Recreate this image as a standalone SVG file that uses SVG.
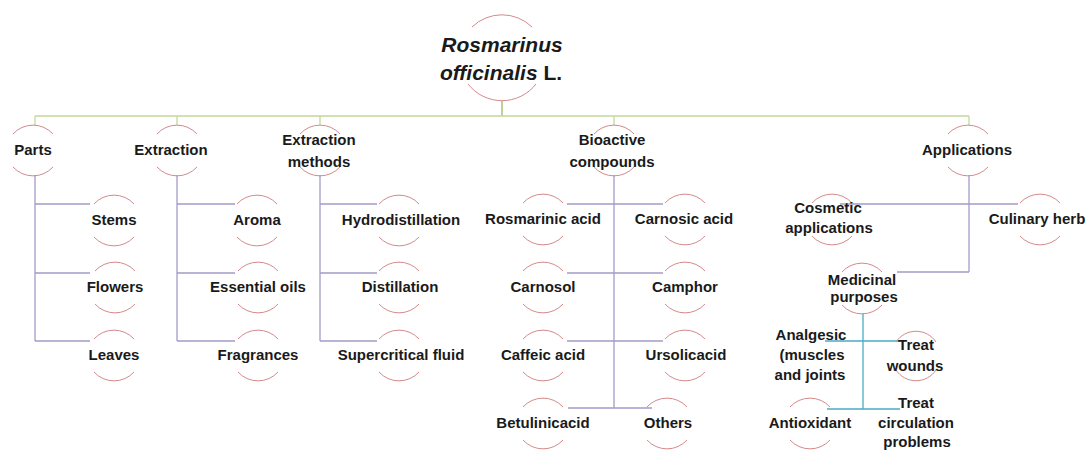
<svg xmlns="http://www.w3.org/2000/svg" xmlns:xlink="http://www.w3.org/1999/xlink" width="1091" height="450" viewBox="0 0 1091 450">
<style>
text{font-family:"Liberation Sans",Arial,sans-serif;font-weight:bold;font-size:15px;fill:#1a1a1a;text-anchor:middle}
.t{font-size:21px;font-style:italic}
.arc{fill:none;stroke:#d48a8a;stroke-width:1}
.g{stroke:#c4d79b;stroke-width:1.3;fill:none}
.gs{stroke:#9bbb59;stroke-width:1.3;fill:none}
.p{stroke:#a29cc9;stroke-width:1.3;fill:none}
.c{stroke:#4bacc6;stroke-width:1.3;fill:none}
</style>
<defs>
<path id="arcs" class="arc" d="M-20 -21 A27 27 0 0 1 20 -21 M-20 12 A27 27 0 0 0 20 12"/>
</defs>
<rect width="1091" height="450" fill="#fff"/>
<g id="connectors">
<path class="gs" d="M502 101 V116"/>
<path class="g" d="M35 116 H969 M35 116 V125 M177 116 V125 M320 116 V125 M614 116 V125 M969 116 V125"/>
<path class="p" d="M35 175 V341 M35 204 H90 M35 273 H90 M35 341 H90"/>
<path class="p" d="M177 175 V341 M177 204 H235 M177 273 H235 M177 341 H235"/>
<path class="p" d="M320 175 V341 M320 204 H377 M320 273 H377 M320 341 H377"/>
<path class="p" d="M614 175 V408 M567 204 H663 M567 273 H663 M567 341 H663 M568 408 H652"/>
<path class="p" d="M969 175 V272 M840 204 H1018 M897 272 H969"/>
<path class="c" d="M863 313 V409 M825 341 H900 M827 409 H900"/>
</g>
<g id="root">
<path class="arc" d="M472 27 A43 43 0 0 1 532 27 M468 84 A43 43 0 0 0 536 84"/>
<text class="t" x="502" y="52">Rosmarinus</text>
<text class="t" x="501" y="80">officinalis<tspan font-style="normal"> L.</tspan></text>
</g>
<g id="parts"><use xlink:href="#arcs" x="33" y="155"/><text x="33" y="155">Parts</text></g>
<g id="extraction"><use xlink:href="#arcs" x="177" y="155"/><text x="171" y="155">Extraction</text></g>
<g id="methods"><use xlink:href="#arcs" x="320" y="155"/><text x="319" y="145">Extraction</text><text x="319" y="167">methods</text></g>
<g id="bioactive"><use xlink:href="#arcs" x="614" y="155"/><text x="612" y="145">Bioactive</text><text x="612" y="167">compounds</text></g>
<g id="applications"><use xlink:href="#arcs" x="968" y="155"/><text x="967" y="155">Applications</text></g>

<g id="stems"><use xlink:href="#arcs" x="114" y="225"/><text x="114" y="225">Stems</text></g>
<g id="flowers"><use xlink:href="#arcs" x="115" y="292"/><text x="115" y="292">Flowers</text></g>
<g id="leaves"><use xlink:href="#arcs" x="114" y="360"/><text x="114" y="360">Leaves</text></g>

<g id="aroma"><use xlink:href="#arcs" x="257" y="225"/><text x="257" y="225">Aroma</text></g>
<g id="oils"><use xlink:href="#arcs" x="258" y="292"/><text x="258" y="292">Essential oils</text></g>
<g id="fragrances"><use xlink:href="#arcs" x="258" y="360"/><text x="258" y="360">Fragrances</text></g>

<g id="hydro"><use xlink:href="#arcs" x="399" y="225"/><text x="401" y="225">Hydrodistillation</text></g>
<g id="distillation"><use xlink:href="#arcs" x="399" y="292"/><text x="400" y="292">Distillation</text></g>
<g id="supercritical"><use xlink:href="#arcs" x="399" y="360"/><text x="401" y="360">Supercritical fluid</text></g>

<g id="rosmarinic"><use xlink:href="#arcs" x="543" y="224"/><text x="543" y="224">Rosmarinic acid</text></g>
<g id="carnosic"><use xlink:href="#arcs" x="685" y="224"/><text x="684" y="224">Carnosic acid</text></g>
<g id="carnosol"><use xlink:href="#arcs" x="543" y="292"/><text x="543" y="292">Carnosol</text></g>
<g id="camphor"><use xlink:href="#arcs" x="685" y="292"/><text x="685" y="292">Camphor</text></g>
<g id="caffeic"><use xlink:href="#arcs" x="543" y="360"/><text x="543" y="360">Caffeic acid</text></g>
<g id="ursolic"><use xlink:href="#arcs" x="685" y="360"/><text x="686" y="360">Ursolicacid</text></g>
<g id="betulinic"><use xlink:href="#arcs" x="543" y="428"/><text x="543" y="428">Betulinicacid</text></g>
<g id="others"><use xlink:href="#arcs" x="667" y="428"/><text x="668" y="428">Others</text></g>

<g id="cosmetic"><use xlink:href="#arcs" x="832" y="224"/><text x="828" y="213">Cosmetic</text><text x="829" y="233">applications</text></g>
<g id="culinary"><use xlink:href="#arcs" x="1040" y="224"/><text x="1037" y="224">Culinary herb</text></g>
<g id="medicinal"><use xlink:href="#arcs" x="862" y="293"/><text x="862" y="285">Medicinal</text><text x="864" y="302">purposes</text></g>

<g id="analgesic"><text x="811" y="340">Analgesic</text><text x="812" y="360">(muscles</text><text x="810" y="380">and joints</text></g>
<g id="wounds"><path class="arc" d="M896 342 A24 24 0 0 1 936 342 M896 370 A24 24 0 0 0 936 370"/><text x="916" y="350">Treat</text><text x="915" y="371">wounds</text></g>
<g id="antioxidant"><use xlink:href="#arcs" x="810" y="428"/><text x="810" y="428">Antioxidant</text></g>
<g id="circulation"><text x="916" y="408">Treat</text><text x="916" y="428">circulation</text><text x="917" y="447">problems</text></g>
</svg>
